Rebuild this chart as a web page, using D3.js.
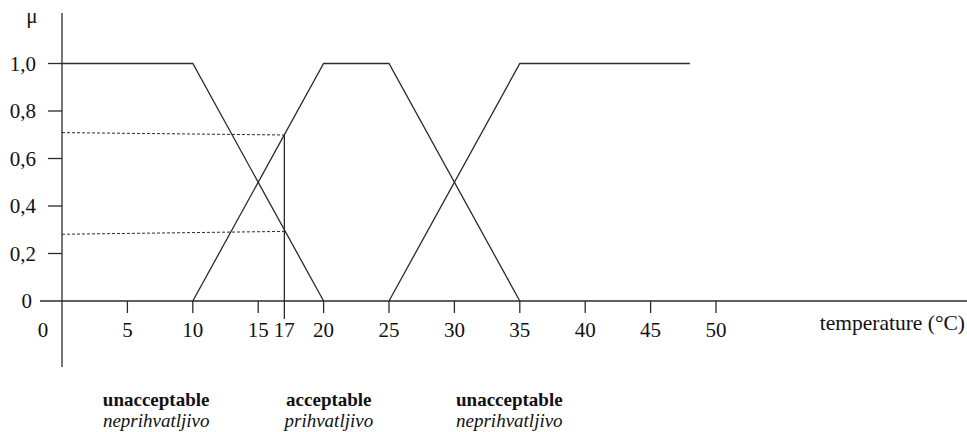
<!DOCTYPE html>
<html>
<head>
<meta charset="utf-8">
<script src="https://cdn.jsdelivr.net/npm/d3@7"></script>
<style>
  html, body { margin: 0; padding: 0; background: #fff; }
  svg { display: block; font-family: "Liberation Serif", "Times New Roman", serif; }
</style>
</head>
<body>
<div id="chart"></div>
<script>
// data
const xTicks = [0, 5, 10, 15, 17, 20, 25, 30, 35, 40, 45, 50];
const yTicks = [0, 0.2, 0.4, 0.6, 0.8, 1.0];

const unacceptableLow = [[0, 1], [10, 1], [20, 0]];
const acceptable = [[10, 0], [20, 1], [25, 1], [35, 0]];
const unacceptableHigh = [[25, 0], [35, 1], [48, 1]];

const cutTemp = 17;
const cutMu = 0.7;
const dashedUpper = [[0, 0.709], [17, 0.699]];
const dashedLower = [[0, 0.281], [17, 0.293]];

const classNames = ["unacceptable", "acceptable", "unacceptable"];
const classNamesLocal = ["neprihvatljivo", "prihvatljivo", "neprihvatljivo"];
const classCenters = [7.2, 20.4, 34.2];

const width = 967;
const height = 432;
const stroke = "#2b2b2b";

const svg = d3.select("#chart")
  .append("svg")
  .attr("width", width)
  .attr("height", height);

const x = d3.scaleLinear().domain([0, 50]).range([62, 716]);
const y = d3.scaleLinear().domain([0, 1]).range([301, 63.5]);

const line = d3.line()
  .x((d) => x(d[0]))
  .y((d) => y(d[1]));

// axes
svg.append("line")
  .attr("x1", 40).attr("x2", width)
  .attr("y1", y(0)).attr("y2", y(0))
  .attr("stroke", stroke).attr("stroke-width", 1.3);

svg.append("line")
  .attr("x1", x(0)).attr("x2", x(0))
  .attr("y1", 13).attr("y2", 367)
  .attr("stroke", stroke).attr("stroke-width", 1.3);

// y ticks + labels
const fmt = (v) => (v === 0 ? "0" : d3.format(".1f")(v).replace(".", ","));

svg.selectAll(".ytick")
  .data(yTicks.filter((d) => d > 0))
  .join("line")
  .attr("x1", 48).attr("x2", x(0))
  .attr("y1", (d) => y(d)).attr("y2", (d) => y(d))
  .attr("stroke", stroke).attr("stroke-width", 1.3);

svg.selectAll(".ylab")
  .data(yTicks)
  .join("text")
  .attr("x", (d) => (d === 0 ? 32 : 36))
  .attr("y", (d) => y(d))
  .attr("dy", "0.34em")
  .attr("text-anchor", "end")
  .attr("font-size", 21)
  .attr("fill", "#111")
  .text(fmt);

svg.append("text")
  .attr("x", 32).attr("y", 23)
  .attr("text-anchor", "middle")
  .attr("font-size", 21)
  .attr("fill", "#111")
  .text("μ");

// x ticks + labels
svg.selectAll(".xtick")
  .data(xTicks.filter((d) => d > 0 && d !== cutTemp))
  .join("line")
  .attr("x1", (d) => x(d)).attr("x2", (d) => x(d))
  .attr("y1", y(0)).attr("y2", y(0) + 12)
  .attr("stroke", stroke).attr("stroke-width", 1.3);

svg.selectAll(".xlab")
  .data(xTicks)
  .join("text")
  .attr("x", (d) => (d === 0 ? x(d) - 19 : x(d)))
  .attr("y", 337)
  .attr("text-anchor", "middle")
  .attr("font-size", 21)
  .attr("fill", "#111")
  .text((d) => d);

svg.append("text")
  .attr("x", 965).attr("y", 330)
  .attr("text-anchor", "end")
  .attr("font-size", 21.5)
  .attr("fill", "#111")
  .text("temperature (°C)");

// membership functions
[unacceptableLow, acceptable, unacceptableHigh].forEach((s) => {
  svg.append("path")
    .datum(s)
    .attr("d", line)
    .attr("fill", "none")
    .attr("stroke", stroke)
    .attr("stroke-width", 1.3);
});

// cut at 17 °C
svg.append("line")
  .attr("x1", x(cutTemp)).attr("x2", x(cutTemp))
  .attr("y1", y(cutMu)).attr("y2", y(0) + 18)
  .attr("stroke", stroke).attr("stroke-width", 1.3);

[dashedUpper, dashedLower].forEach((s) => {
  svg.append("path")
    .datum(s)
    .attr("d", line)
    .attr("fill", "none")
    .attr("stroke", stroke)
    .attr("stroke-width", 1)
    .attr("stroke-dasharray", "3,2");
});

// class labels below
svg.selectAll(".cls")
  .data(classNames)
  .join("text")
  .attr("x", (d, i) => x(classCenters[i]))
  .attr("y", 406)
  .attr("text-anchor", "middle")
  .attr("font-size", 19)
  .attr("font-weight", "bold")
  .attr("fill", "#111")
  .text((d) => d);

svg.selectAll(".clsl")
  .data(classNamesLocal)
  .join("text")
  .attr("x", (d, i) => x(classCenters[i]))
  .attr("y", 427)
  .attr("text-anchor", "middle")
  .attr("font-size", 19)
  .attr("font-style", "italic")
  .attr("fill", "#111")
  .text((d) => d);
</script>
</body>
</html>
